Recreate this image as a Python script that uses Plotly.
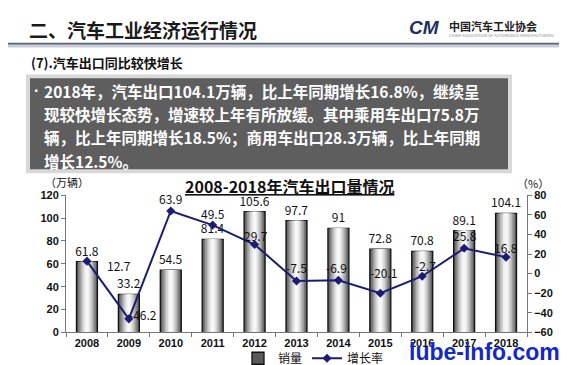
import plotly.graph_objects as go

# ---- data ----
years = ["2008", "2009", "2010", "2011", "2012", "2013", "2014", "2015", "2016", "2017", "2018"]
sales = [61.8, 33.2, 54.5, 81.4, 105.6, 97.7, 91, 72.8, 70.8, 89.1, 104.1]
growth = [12.7, -46.2, 63.9, 49.5, 29.7, -7.5, -6.9, -20.1, -2.7, 25.8, 16.8]
left_ticks = [0, 20, 40, 60, 80, 100, 120]
right_ticks = [-60, -40, -20, 0, 20, 40, 60, 80]

W, H = 567, 365
def px(x): return x / W
def py(y): return 1 - y / H

CJK = "Noto Sans CJK SC"
NUM = "Liberation Sans"

fig = go.Figure()

# bars: layered widths to imitate cylinder shading
layers = [(0.50, "#5a5a5a"), (0.43, "#7a7a7a"), (0.36, "#999999"),
          (0.29, "#b8b8b8"), (0.22, "#d4d4d4"), (0.14, "#ebebeb"), (0.07, "#f8f8f8")]
for i, (w, c) in enumerate(layers):
    fig.add_trace(go.Bar(
        x=years, y=sales, width=w, name="销量",
        marker=dict(color=c, line=dict(color="#111111", width=1.3 if i == 0 else 0)),
        showlegend=(i == 0),
        text=[f"{v:g}" for v in sales] if i == 0 else None,
        textposition="outside" if i == 0 else "none",
        constraintext="none",
        textfont=dict(family=CJK, size=12, color="#111111"),
        cliponaxis=False, hoverinfo="skip" if i else None,
    ))

fig.add_trace(go.Scatter(
    x=years, y=growth, yaxis="y2", name="增长率", mode="lines+markers",
    line=dict(color="#1c1c74", width=2),
    marker=dict(symbol="diamond", size=7, color="#1c1c74"),
))

# growth labels (offsets in pixels)
offsets = [(32, -4), (14, 4), (0, 13), (0, 12), (1, 9), (0, 13), (-2, 13), (3, 21),
           (3, 11), (1, 13), (0, 10)]
for idx, g in enumerate(growth):
    dx, dy = offsets[idx]
    fig.add_annotation(x=idx, y=g, xref="x", yref="y2", text=f"{g:g}", showarrow=False,
                       xshift=dx, yshift=dy, font=dict(family=CJK, size=12, color="#111111"))

axis_font = dict(family=NUM, size=11, color="#111111", weight="bold")
fig.update_layout(
    width=W, height=H, autosize=False,
    margin=dict(l=0, r=0, t=0, b=0),
    paper_bgcolor="white", plot_bgcolor="white",
    barmode="overlay",
    xaxis=dict(domain=[px(58), px(519)], type="category", range=[-0.5, len(years) - 0.5],
               showline=True, linecolor="#777777",
               ticks="outside", tickson="boundaries", ticklen=4, tickcolor="#777777",
               tickfont=axis_font, showgrid=False, tickangle=0),
    yaxis=dict(domain=[py(332), py(189)], range=[0, 120], tickvals=left_ticks, showline=True,
               linecolor="#777777", ticks="outside", ticklen=4, tickcolor="#777777",
               tickfont=axis_font, showgrid=False, zeroline=False),
    yaxis2=dict(overlaying="y", side="right", range=[-60, 80], tickvals=right_ticks,
                showline=True, linecolor="#777777", ticks="outside", ticklen=4,
                tickcolor="#777777", tickfont=axis_font, showgrid=False, zeroline=False),
    legend=dict(orientation="h", x=px(230), y=py(359), xanchor="left", yanchor="middle",
                font=dict(family=CJK, size=12, color="#111111"), bgcolor="rgba(0,0,0,0)",
                itemwidth=30, tracegroupgap=0),
    showlegend=True,
)

shapes = []
shapes.append(dict(type="rect", xref="paper", yref="paper", x0=0, x1=1, y0=py(32), y1=py(30),
                   fillcolor="#56657a", line=dict(width=0), layer="below"))
shapes.append(dict(type="rect", xref="paper", yref="paper", x0=0, x1=1, y0=py(35), y1=py(32),
                   fillcolor="#c9ced6", line=dict(width=0), layer="below"))
shapes.append(dict(type="rect", xref="paper", yref="paper", x0=px(18), x1=px(504), y0=py(166), y1=py(63),
                   fillcolor="#d8d8d8", line=dict(width=0), layer="below"))
shapes.append(dict(type="rect", xref="paper", yref="paper", x0=px(22), x1=px(500), y0=py(162), y1=py(67),
                   fillcolor="#5e5e5e", line=dict(width=0), layer="below"))
fig.update_layout(shapes=shapes)

def txt(x, y, s, size, color="#111111", bold=False, family=CJK, xanchor="left", **kw):
    fig.add_annotation(x=px(x), y=py(y), xref="paper", yref="paper", text=s, showarrow=False,
                       xanchor=xanchor, yanchor="middle", borderpad=0,
                       font=dict(family=family, size=size, color=color, weight="bold" if bold else "normal"), **kw)

txt(20, 16, "二、汽车工业经济运行情况", 19, "#1a1a1a", True)
txt(400, 14, "<i>CM</i>", 19, "#1f2f63", True, family="Liberation Sans")
txt(440, 12, "中国汽车工业协会", 11, "#222222", True)
txt(440, 22, "CHINA ASSOCIATION OF AUTOMOBILE MANUFACTURERS", 4, "#888888")
txt(22, 51, "(7).汽车出口同比较快增长", 13, "#111111", True)

lines = ["2018年，汽车出口104.1万辆，比上年同期增长16.8%，继续呈",
         "现较快增长态势，增速较上年有所放缓。其中乘用车出口75.8万",
         "辆，比上年同期增长18.5%；商用车出口28.3万辆，比上年同期",
         "增长12.5%。"]
txt(25, 80, "·", 16, "white", True, family="Liberation Sans")
for i, s in enumerate(lines):
    txt(35, 80 + i * 24.3, s, 15.5, "white", True)

txt(281, 179, "<u>2008-2018年汽车出口量情况</u>", 16, "#111111", True, xanchor="center")
txt(36, 175, "（万辆）", 11, "#111111")
txt(508, 176, "（%）", 11, "#111111")
txt(400, 353, "lube-info.com", 23, "#1428c8", True, family="Liberation Sans")

fig.write_html("out.html")
